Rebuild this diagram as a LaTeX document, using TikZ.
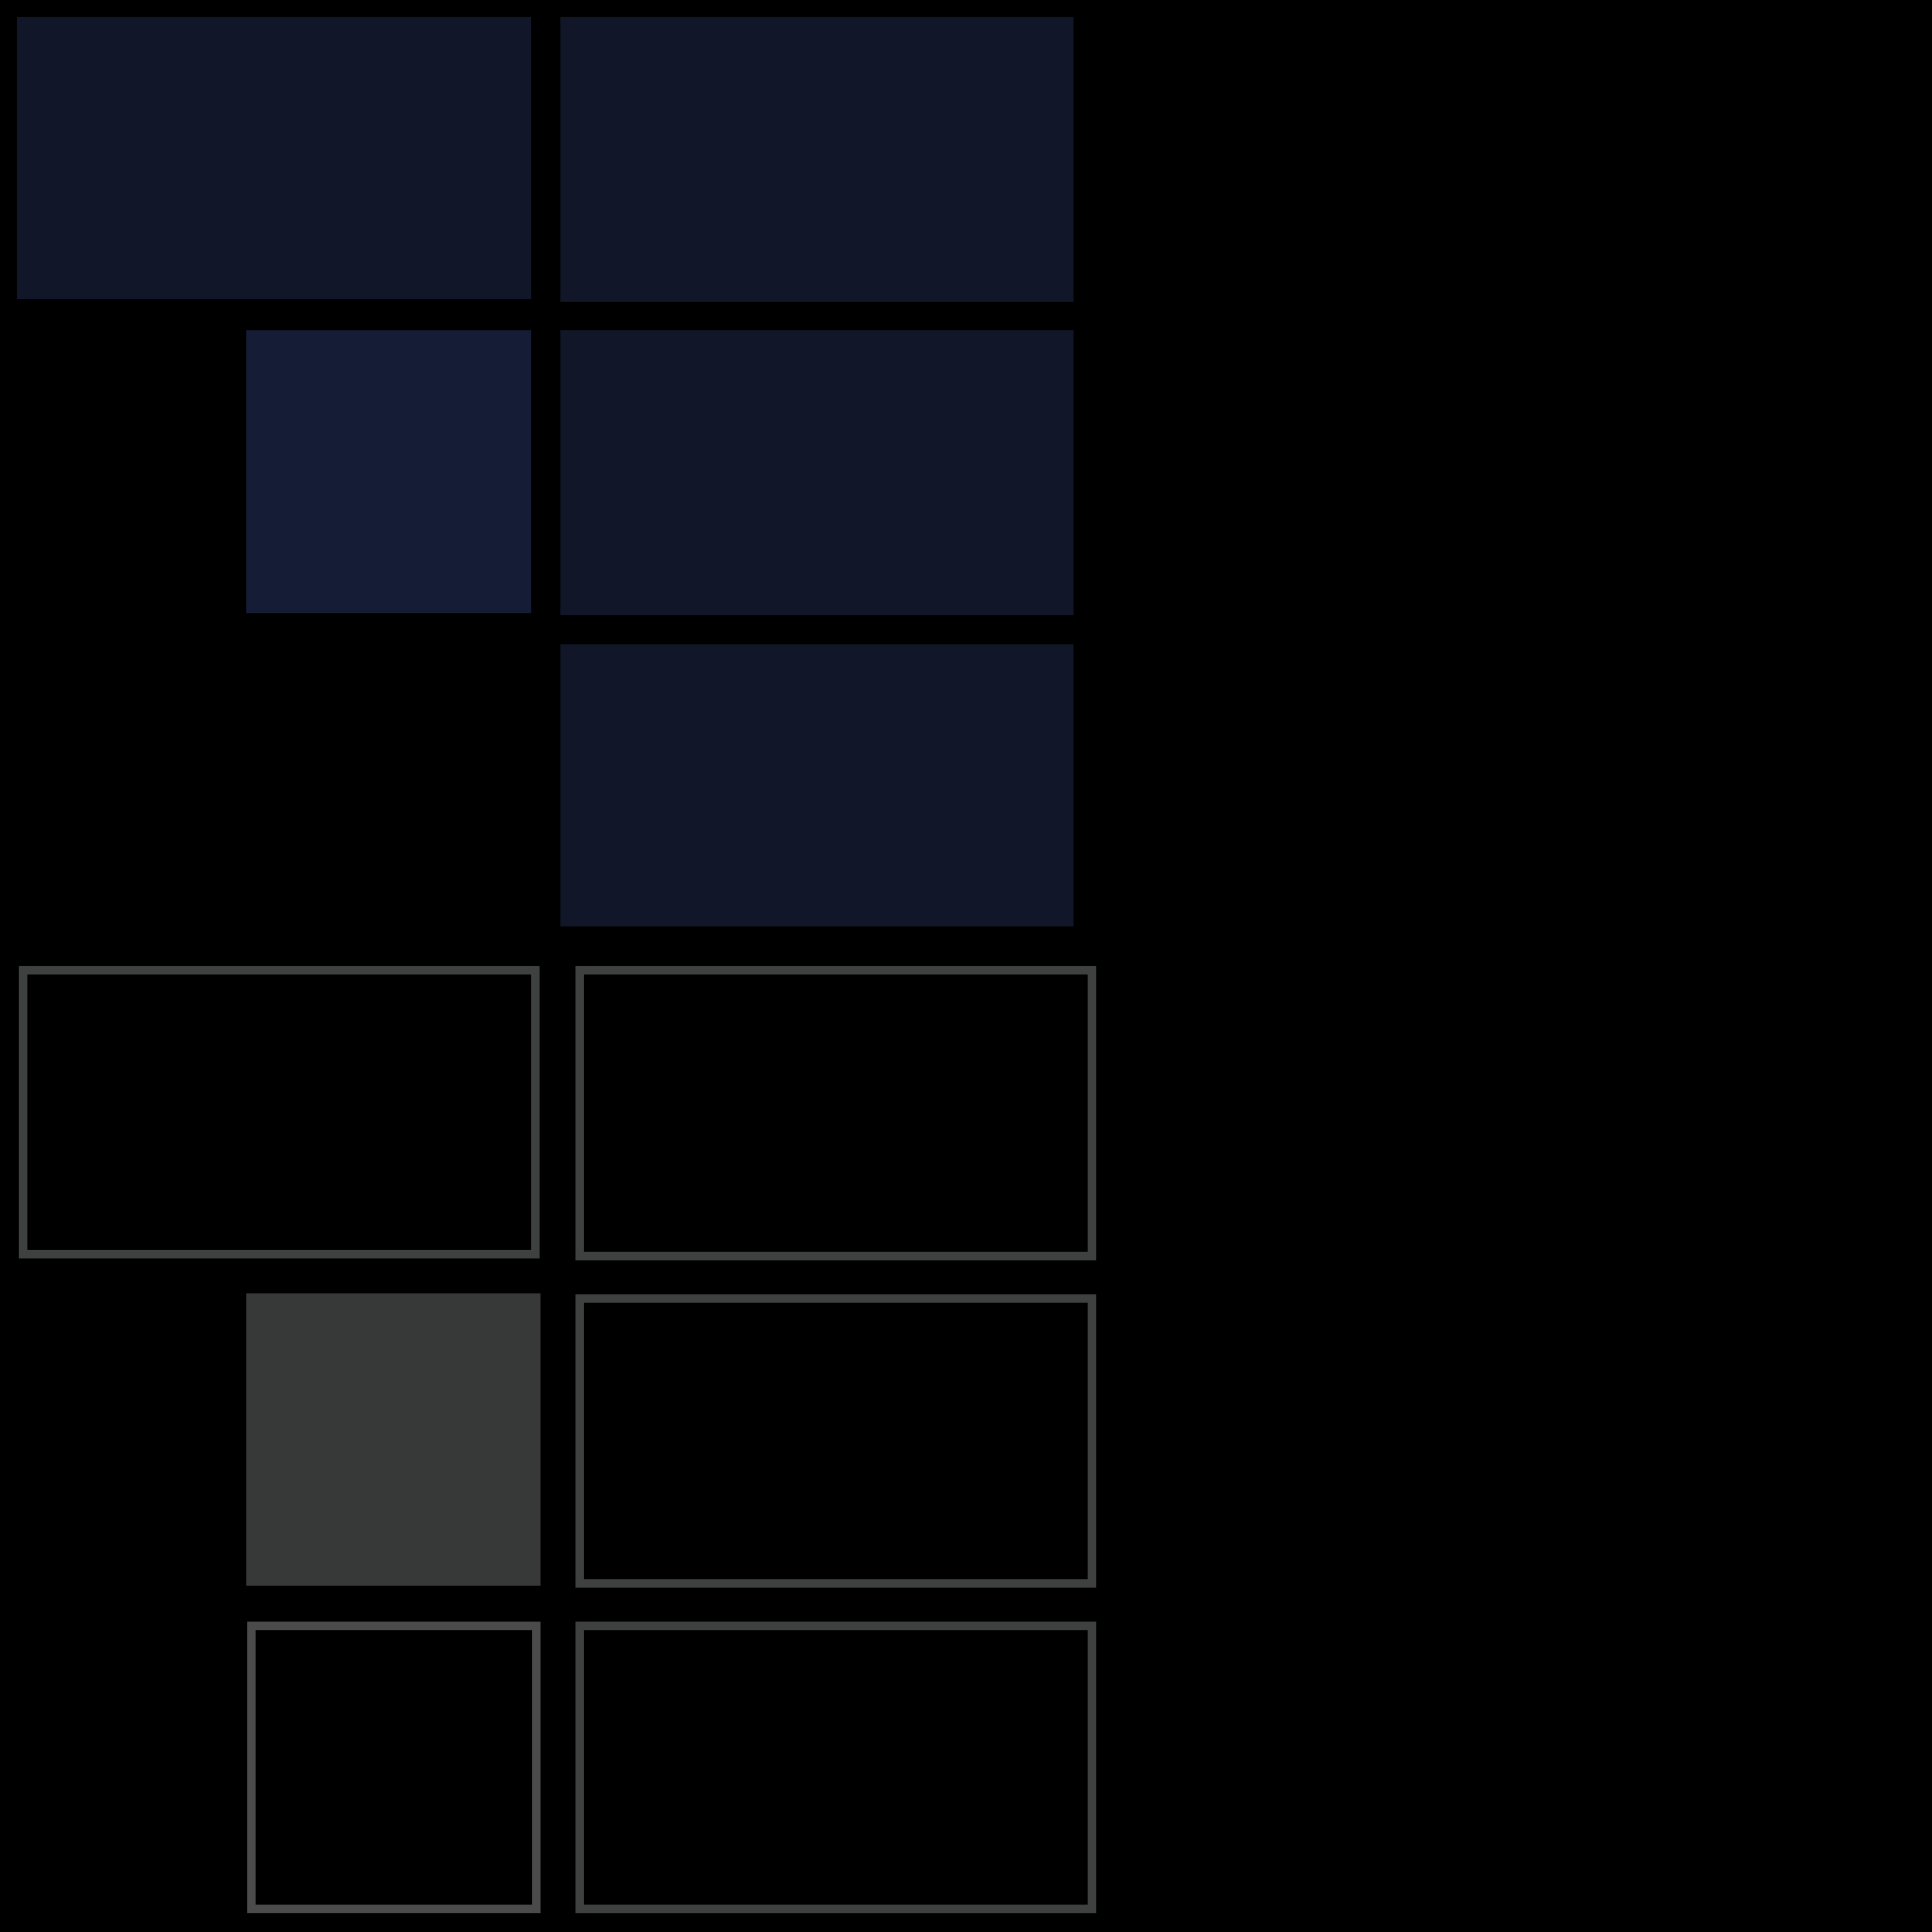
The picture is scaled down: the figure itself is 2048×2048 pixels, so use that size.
\documentclass[tikz,border=0pt]{standalone}
\usepackage{tikz}
\usetikzlibrary{positioning}
\definecolor{navy}{HTML}{111729}
\definecolor{navylight}{HTML}{141C36}
\definecolor{slab}{HTML}{373838}
\definecolor{rim}{HTML}{3F4040}
\definecolor{rimlight}{HTML}{4A4B4A}
\tikzset{
	tile/.style={rectangle, inner sep=0pt, outer sep=0pt, anchor=north west}
}
\tikzset{
	navytile/.style={tile, fill=navy},
	frametile/.style={tile, draw=rim, line width=0.09cm}
}

\begin{document}
\begin{tikzpicture}[x=0.01cm, y=-0.01cm]
      \fill[black] (0,0) rectangle (2048,2048);
      \useasboundingbox (0,0) rectangle (2048,2048);
      % upper block
      \node[navytile, minimum width=5.45cm, minimum height=2.99cm] (topleft) at (18,18) {};
      \node[navytile, minimum width=5.44cm, minimum height=3.02cm] (topright) at (594,18) {};
      \node[tile, fill=navylight, minimum width=3.02cm, minimum height=3.00cm] (midleft) at (261,350) {};
      \node[navytile, minimum width=5.44cm, minimum height=3.02cm] (midright) at (594,350) {};
      \node[navytile, minimum width=5.44cm, minimum height=2.99cm] (lowright) at (594,683) {};
      % lower block
      \node[frametile, minimum width=5.43cm, minimum height=3.01cm] (frameA) at (24.5,1028.5) {};
      \node[frametile, minimum width=5.43cm, minimum height=3.03cm] (frameB) at (614.5,1028.5) {};
      \node[tile, fill=slab, minimum width=3.12cm, minimum height=3.10cm] (slabC) at (261,1371) {};
      \node[frametile, minimum width=5.43cm, minimum height=3.02cm] (frameD) at (614.5,1376.5) {};
      \node[frametile, draw=rimlight, minimum width=3.02cm, minimum height=3.00cm] (frameE) at (266.5,1723.5) {};
      \node[frametile, minimum width=5.43cm, minimum height=3.00cm] (frameF) at (614.5,1723.5) {};
    \end{tikzpicture}
\end{document}
